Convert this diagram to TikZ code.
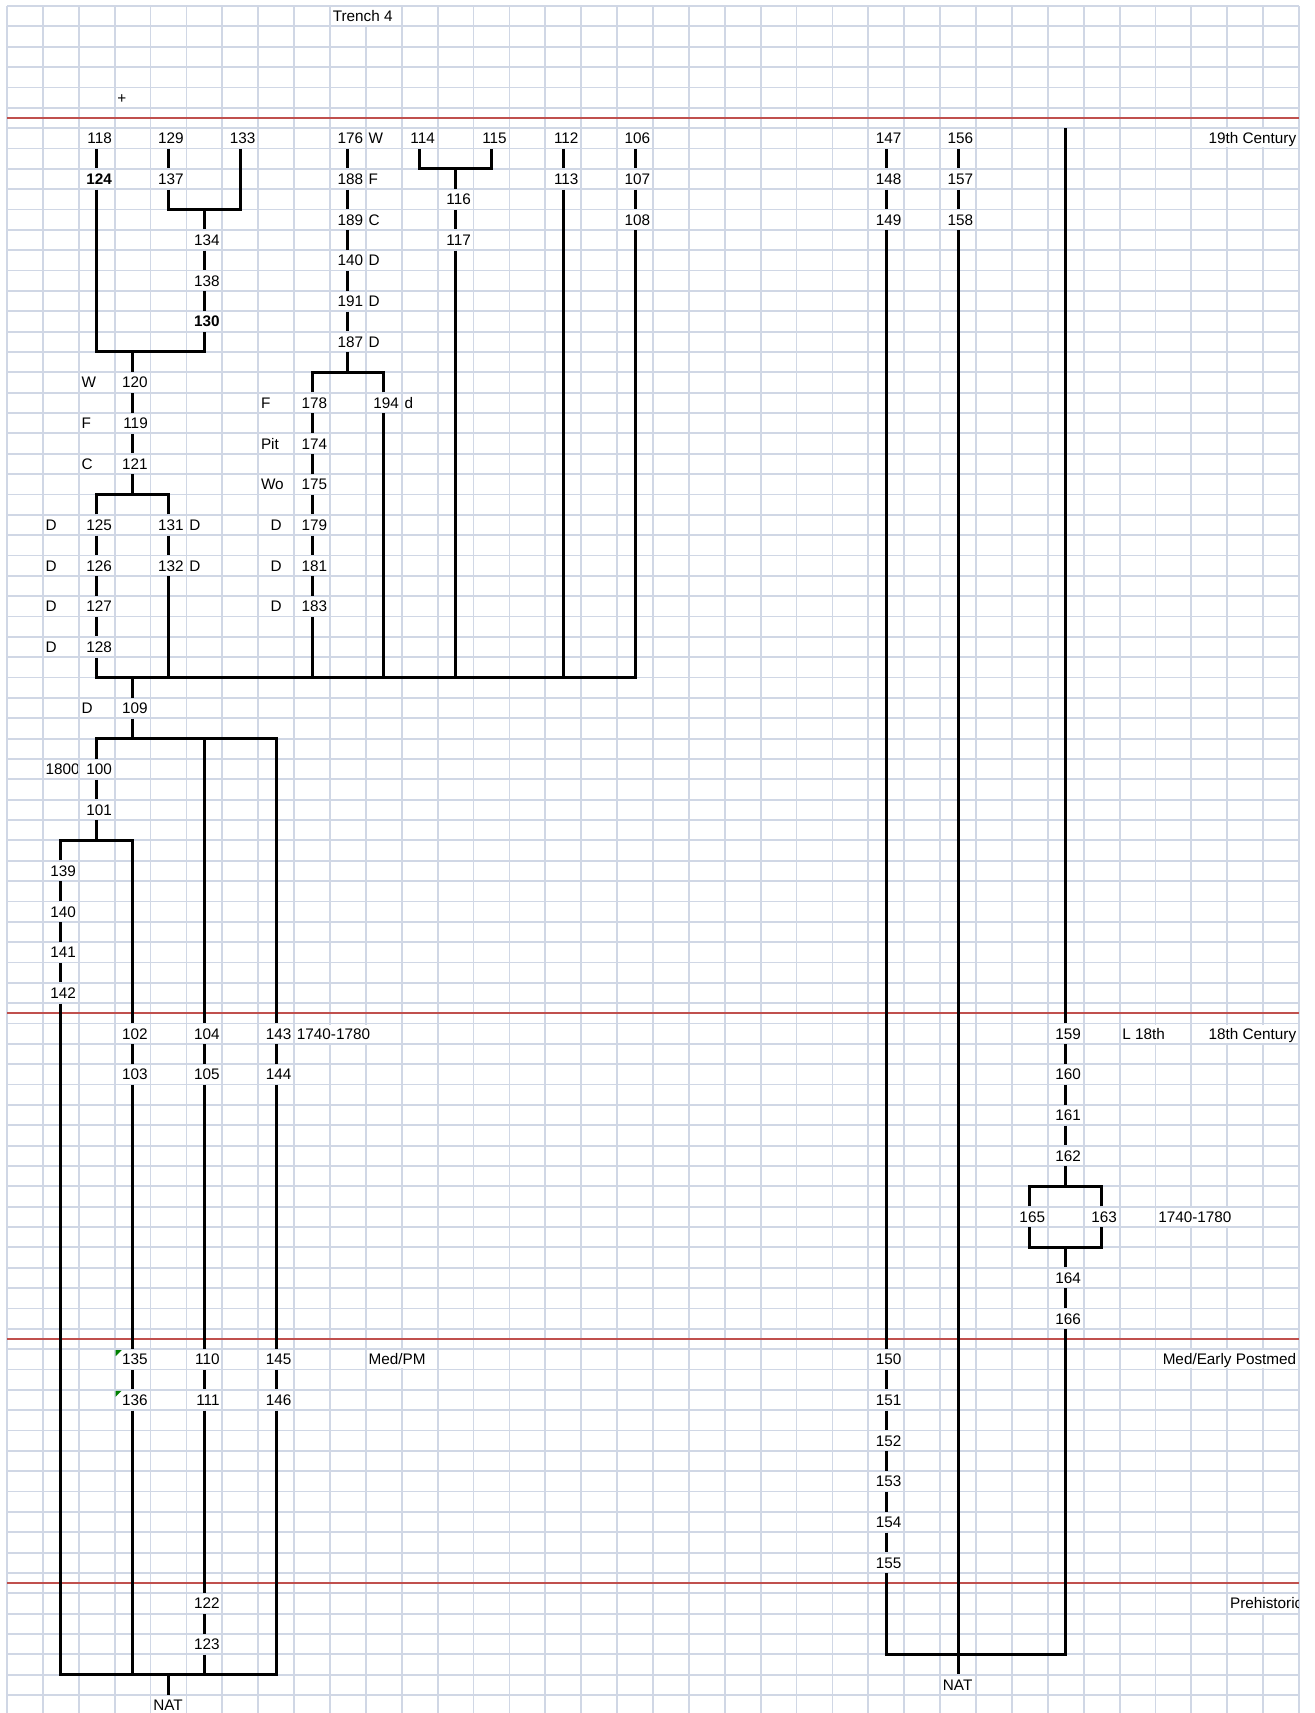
\documentclass[tikz,border=0pt]{standalone}
\usepackage{fontspec}
\setmainfont{Liberation Sans}
\newlength\cellw \setlength\cellw{15.145pt}
\definecolor{gridc}{RGB}{208,215,229}
\definecolor{redl}{RGB}{192,80,77}
\definecolor{errg}{RGB}{0,128,0}
\tikzset{
 gridln/.style={draw=gridc, line width=0.9pt},
 redln/.style={draw=redl, line width=1.1pt},
 conn/.style={draw=black, line width=1.5pt},
 cell/.style={inner xsep=1.4pt, inner ysep=0pt, minimum width=17.945pt, minimum height=10.175pt, text height=5.48pt, text depth=0pt, font=\fontsize{7.65}{9}\selectfont},
}
\newcommand\NumCell[4]{\node[cell] (#1) at ({24.945+35.89*#2},{16.175+20.35*#3}) {\makebox[\cellw][r]{#4}};}
\newcommand\LeftCell[4]{\node[cell] (#1) at ({24.945+35.89*#2},{16.175+20.35*#3}) {\makebox[\cellw][l]{#4}};}
\newcommand\CenCell[4]{\node[cell] (#1) at ({24.945+35.89*#2},{16.175+20.35*#3}) {\makebox[\cellw][c]{#4}};}
\newcommand\Junc[3]{\coordinate (#1) at ({24.945+35.89*#2},{6+20.35*#3});}
\newcommand\WhiteSpan[3]{\fill[white] ({7+35.89*#2+1},{6+20.35*#1+1}) rectangle ({7+35.89*(#3+1)-1},{6+20.35*(#1+1)-1});}
\newcommand\RedRow[1]{\draw[redln] (7,{16.175+20.35*#1}) -- (1299,{16.175+20.35*#1});}
\newcommand\ErrMark[2]{\fill[errg] ({7+35.89*#1+1},{6+20.35*#2+1}) -- ++(6,0) -- ++(-6,6) -- cycle;}
\begin{document}
\begin{tikzpicture}[x=0.5pt,y=-0.5pt]
\useasboundingbox[fill=white] (0,0) rectangle (1314,1713);
% grid
\foreach \j in {0,...,36} \draw[gridln] ({7+35.89*\j},6) -- ({7+35.89*\j},1713);
\foreach \k in {0,...,83} \draw[gridln] (7,{6+20.35*\k}) -- (1299,{6+20.35*\k});
% overflow text spans hide gridlines
\WhiteSpan{0}{9}{10}
\WhiteSpan{6}{33}{35}
\WhiteSpan{50}{8}{10}
\WhiteSpan{50}{31}{32}
\WhiteSpan{50}{33}{35}
\WhiteSpan{59}{32}{34}
\WhiteSpan{66}{10}{11}
\WhiteSpan{66}{32}{35}
\WhiteSpan{78}{34}{35}
% period lines
\RedRow{5}
\RedRow{49}
\RedRow{65}
\RedRow{77}
% labels
\LeftCell{trench}{9}{0}{Trench 4}
\LeftCell{plus}{3}{4}{+}
\NumCell{c19}{35}{6}{19th Century}
\NumCell{c18}{35}{50}{18th Century}
\NumCell{cmed}{35}{66}{Med/Early Postmed}
\LeftCell{l18}{31}{50}{L 18th}
\LeftCell{dateA}{8}{50}{1740-1780}
\LeftCell{dateB}{32}{59}{1740-1780}
\LeftCell{medpm}{10}{66}{Med/PM}
\begin{scope}
\clip (1228,{6+20.35*78}) rectangle (1298.5,{6+20.35*79});
\LeftCell{prehist}{34}{78}{Prehistoric}
\end{scope}
\begin{scope}
\clip ({7+35.89+1},{6+20.35*37}) rectangle ({7+35.89*2-1},{6+20.35*38});
\LeftCell{t1800}{1}{37}{1800}
\end{scope}
% letter codes
\LeftCell{w1}{10}{6}{W}
\LeftCell{f1}{10}{8}{F}
\LeftCell{c1}{10}{10}{C}
\LeftCell{d1}{10}{12}{D}
\LeftCell{d2}{10}{14}{D}
\LeftCell{d3}{10}{16}{D}
\LeftCell{w2}{2}{18}{W}
\LeftCell{f2}{2}{20}{F}
\LeftCell{c2}{2}{22}{C}
\LeftCell{f3}{7}{19}{F}
\LeftCell{pit}{7}{21}{Pit}
\LeftCell{wo}{7}{23}{Wo}
\LeftCell{dd}{11}{19}{d}
\LeftCell{d4}{1}{25}{D}
\LeftCell{d5}{1}{27}{D}
\LeftCell{d6}{1}{29}{D}
\LeftCell{d7}{1}{31}{D}
\LeftCell{d8}{5}{25}{D}
\LeftCell{d9}{5}{27}{D}
\CenCell{d10}{7}{25}{D}
\CenCell{d11}{7}{27}{D}
\CenCell{d12}{7}{29}{D}
\LeftCell{d13}{2}{34}{D}
\LeftCell{natL}{4}{83}{NAT}
\LeftCell{natR}{26}{82}{NAT}
% context numbers
\NumCell{n118}{2}{6}{118}
\NumCell{n124}{2}{8}{\bfseries 124}
\NumCell{n129}{4}{6}{129}
\NumCell{n137}{4}{8}{137}
\NumCell{n133}{6}{6}{133}
\NumCell{n134}{5}{11}{134}
\NumCell{n138}{5}{13}{138}
\NumCell{n130}{5}{15}{\bfseries 130}
\NumCell{n176}{9}{6}{176}
\NumCell{n188}{9}{8}{188}
\NumCell{n189}{9}{10}{189}
\NumCell{n140a}{9}{12}{140}
\NumCell{n191}{9}{14}{191}
\NumCell{n187}{9}{16}{187}
\NumCell{n114}{11}{6}{114}
\NumCell{n115}{13}{6}{115}
\NumCell{n116}{12}{9}{116}
\NumCell{n117}{12}{11}{117}
\NumCell{n112}{15}{6}{112}
\NumCell{n113}{15}{8}{113}
\NumCell{n106}{17}{6}{106}
\NumCell{n107}{17}{8}{107}
\NumCell{n108}{17}{10}{108}
\NumCell{n147}{24}{6}{147}
\NumCell{n148}{24}{8}{148}
\NumCell{n149}{24}{10}{149}
\NumCell{n156}{26}{6}{156}
\NumCell{n157}{26}{8}{157}
\NumCell{n158}{26}{10}{158}
\NumCell{n120}{3}{18}{120}
\NumCell{n119}{3}{20}{119}
\NumCell{n121}{3}{22}{121}
\NumCell{n178}{8}{19}{178}
\NumCell{n174}{8}{21}{174}
\NumCell{n175}{8}{23}{175}
\NumCell{n179}{8}{25}{179}
\NumCell{n181}{8}{27}{181}
\NumCell{n183}{8}{29}{183}
\NumCell{n194}{10}{19}{194}
\NumCell{n125}{2}{25}{125}
\NumCell{n126}{2}{27}{126}
\NumCell{n127}{2}{29}{127}
\NumCell{n128}{2}{31}{128}
\NumCell{n131}{4}{25}{131}
\NumCell{n132}{4}{27}{132}
\NumCell{n109}{3}{34}{109}
\NumCell{n100}{2}{37}{100}
\NumCell{n101}{2}{39}{101}
\NumCell{n139}{1}{42}{139}
\NumCell{n140b}{1}{44}{140}
\NumCell{n141}{1}{46}{141}
\NumCell{n142}{1}{48}{142}
\NumCell{n102}{3}{50}{102}
\NumCell{n103}{3}{52}{103}
\NumCell{n104}{5}{50}{104}
\NumCell{n105}{5}{52}{105}
\NumCell{n143}{7}{50}{143}
\NumCell{n144}{7}{52}{144}
\NumCell{n135}{3}{66}{135}
\NumCell{n136}{3}{68}{136}
\NumCell{n110}{5}{66}{110}
\NumCell{n111}{5}{68}{111}
\NumCell{n145}{7}{66}{145}
\NumCell{n146}{7}{68}{146}
\NumCell{n122}{5}{78}{122}
\NumCell{n123}{5}{80}{123}
\NumCell{n159}{29}{50}{159}
\NumCell{n160}{29}{52}{160}
\NumCell{n161}{29}{54}{161}
\NumCell{n162}{29}{56}{162}
\NumCell{n165}{28}{59}{165}
\NumCell{n163}{30}{59}{163}
\NumCell{n164}{29}{62}{164}
\NumCell{n166}{29}{64}{166}
\NumCell{n150}{24}{66}{150}
\NumCell{n151}{24}{68}{151}
\NumCell{n152}{24}{70}{152}
\NumCell{n153}{24}{72}{153}
\NumCell{n154}{24}{74}{154}
\NumCell{n155}{24}{76}{155}
\ErrMark{3}{66}
\ErrMark{3}{68}
% junctions
\Junc{j1}{5}{10}
\Junc{j2}{3}{17}
\Junc{j3}{3}{24}
\Junc{j4}{3}{33}
\Junc{j5}{9}{18}
\Junc{j6}{12}{8}
\Junc{j7}{3}{36}
\Junc{j8}{2}{41}
\Junc{j9}{4}{82}
\Junc{t29}{29}{6}
\Junc{j10}{29}{58}
\Junc{j11}{29}{61}
\Junc{j12}{26}{81}
% connectors
\draw[conn] (n118.south) -- (n124.north);
\draw[conn] (n129.south) -- (n137.north);
\draw[conn] (n137.south) |- (j1);
\draw[conn] (n133.south) |- (j1);
\draw[conn] (j1) -- (n134.north);
\draw[conn] (n134.south) -- (n138.north);
\draw[conn] (n138.south) -- (n130.north);
\draw[conn] (n124.south) |- (j2);
\draw[conn] (n130.south) |- (j2);
\draw[conn] (j2) -- (n120.north);
\draw[conn] (n120.south) -- (n119.north);
\draw[conn] (n119.south) -- (n121.north);
\draw[conn] (n121.south) -- (j3);
\draw[conn] (n125.north) |- (j3);
\draw[conn] (n131.north) |- (j3);
\draw[conn] (n125.south) -- (n126.north);
\draw[conn] (n126.south) -- (n127.north);
\draw[conn] (n127.south) -- (n128.north);
\draw[conn] (n131.south) -- (n132.north);
\draw[conn] (n176.south) -- (n188.north);
\draw[conn] (n188.south) -- (n189.north);
\draw[conn] (n189.south) -- (n140a.north);
\draw[conn] (n140a.south) -- (n191.north);
\draw[conn] (n191.south) -- (n187.north);
\draw[conn] (n187.south) -- (j5);
\draw[conn] (n178.north) |- (j5);
\draw[conn] (n194.north) |- (j5);
\draw[conn] (n178.south) -- (n174.north);
\draw[conn] (n174.south) -- (n175.north);
\draw[conn] (n175.south) -- (n179.north);
\draw[conn] (n179.south) -- (n181.north);
\draw[conn] (n181.south) -- (n183.north);
\draw[conn] (n114.south) |- (j6);
\draw[conn] (n115.south) |- (j6);
\draw[conn] (j6) -- (n116.north);
\draw[conn] (n116.south) -- (n117.north);
\draw[conn] (n112.south) -- (n113.north);
\draw[conn] (n106.south) -- (n107.north);
\draw[conn] (n107.south) -- (n108.north);
\draw[conn] (n128.south) |- (j4);
\draw[conn] (n132.south) |- (j4);
\draw[conn] (n183.south) |- (j4);
\draw[conn] (n194.south) |- (j4);
\draw[conn] (n117.south) |- (j4);
\draw[conn] (n113.south) |- (j4);
\draw[conn] (n108.south) |- (j4);
\draw[conn] (j4) -- (n109.north);
\draw[conn] (n109.south) -- (j7);
\draw[conn] (n100.north) |- (j7);
\draw[conn] (n104.north) |- (j7);
\draw[conn] (n143.north) |- (j7);
\draw[conn] (n100.south) -- (n101.north);
\draw[conn] (n101.south) -- (j8);
\draw[conn] (n139.north) |- (j8);
\draw[conn] (n102.north) |- (j8);
\draw[conn] (n139.south) -- (n140b.north);
\draw[conn] (n140b.south) -- (n141.north);
\draw[conn] (n141.south) -- (n142.north);
\draw[conn] (n102.south) -- (n103.north);
\draw[conn] (n103.south) -- (n135.north);
\draw[conn] (n135.south) -- (n136.north);
\draw[conn] (n104.south) -- (n105.north);
\draw[conn] (n105.south) -- (n110.north);
\draw[conn] (n110.south) -- (n111.north);
\draw[conn] (n111.south) -- (n122.north);
\draw[conn] (n122.south) -- (n123.north);
\draw[conn] (n143.south) -- (n144.north);
\draw[conn] (n144.south) -- (n145.north);
\draw[conn] (n145.south) -- (n146.north);
\draw[conn] (n142.south) |- (j9);
\draw[conn] (n136.south) |- (j9);
\draw[conn] (n123.south) |- (j9);
\draw[conn] (n146.south) |- (j9);
\draw[conn] (j9) -- (natL.north);
% right side
\draw[conn] (n147.south) -- (n148.north);
\draw[conn] (n148.south) -- (n149.north);
\draw[conn] (n149.south) -- (n150.north);
\draw[conn] (n150.south) -- (n151.north);
\draw[conn] (n151.south) -- (n152.north);
\draw[conn] (n152.south) -- (n153.north);
\draw[conn] (n153.south) -- (n154.north);
\draw[conn] (n154.south) -- (n155.north);
\draw[conn] (n156.south) -- (n157.north);
\draw[conn] (n157.south) -- (n158.north);
\draw[conn] (n158.south) -- (natR.north);
\draw[conn] (t29) -- (n159.north);
\draw[conn] (n159.south) -- (n160.north);
\draw[conn] (n160.south) -- (n161.north);
\draw[conn] (n161.south) -- (n162.north);
\draw[conn] (n162.south) -- (j10);
\draw[conn] (n165.north) |- (j10);
\draw[conn] (n163.north) |- (j10);
\draw[conn] (n165.south) |- (j11);
\draw[conn] (n163.south) |- (j11);
\draw[conn] (j11) -- (n164.north);
\draw[conn] (n164.south) -- (n166.north);
\draw[conn] (n155.south) |- (j12);
\draw[conn] (n166.south) |- (j12);
\end{tikzpicture}
\end{document}
